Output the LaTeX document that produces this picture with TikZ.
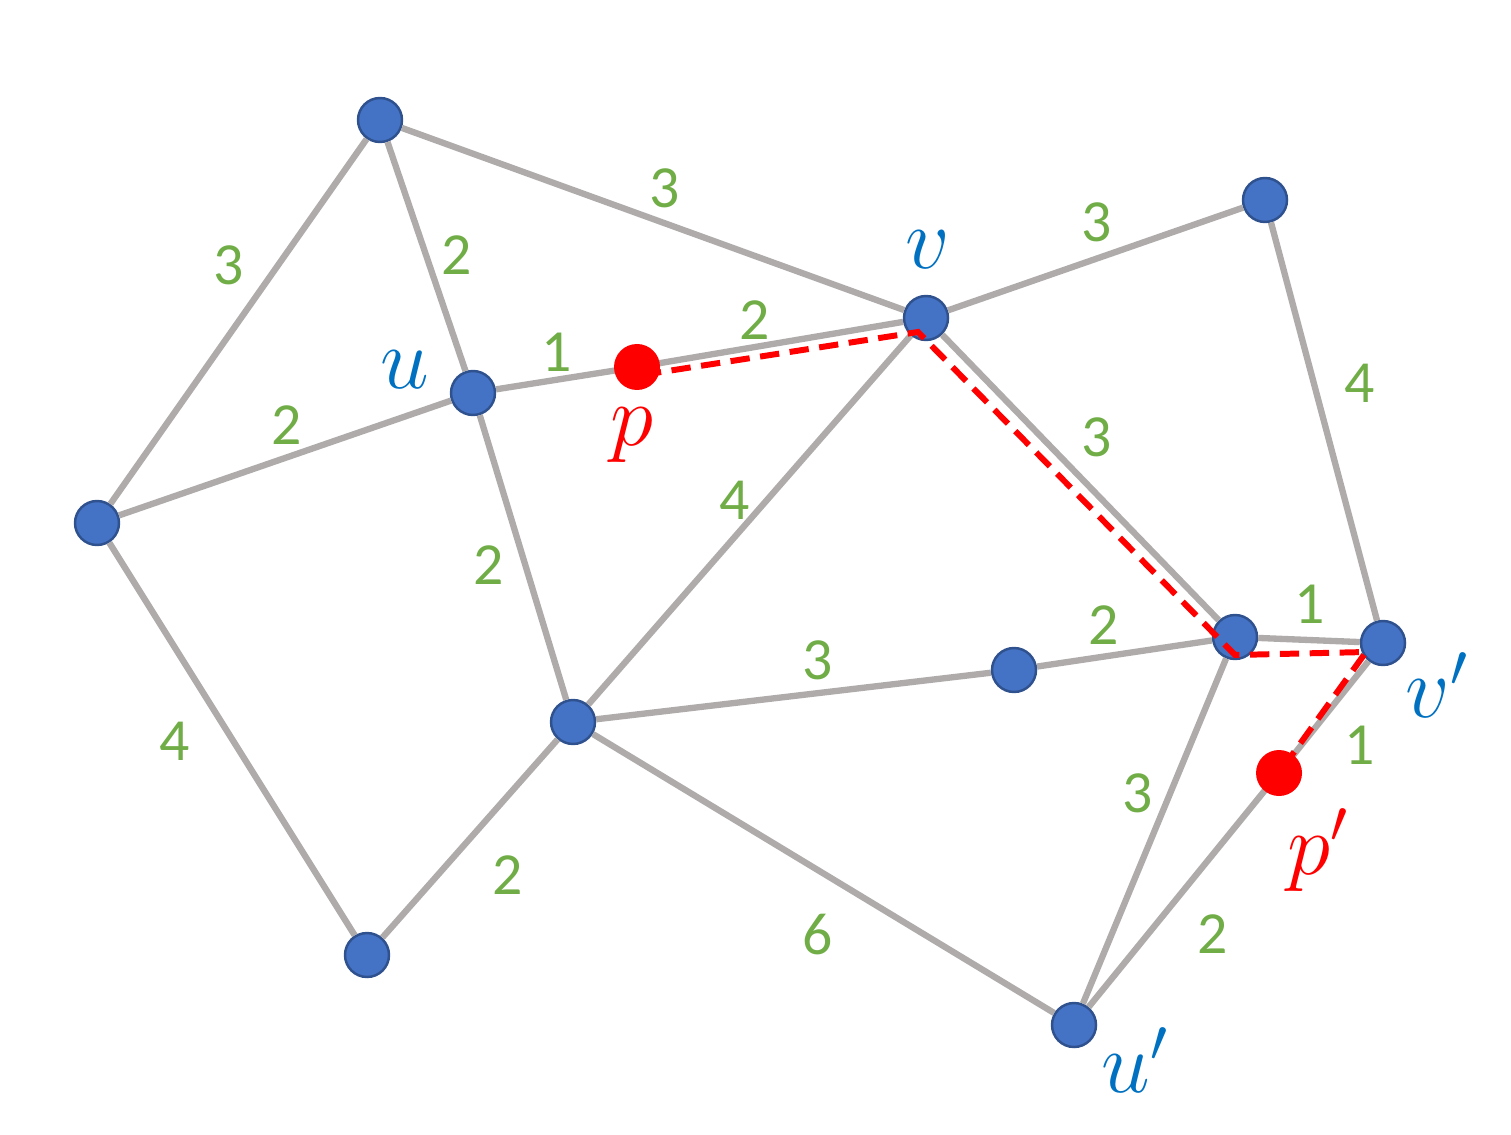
\documentclass[tikz,border=0pt]{standalone}
\usepackage{fontspec}
\setmainfont{Carlito}
\definecolor{edgegray}{HTML}{AFABAB}
\definecolor{vertblue}{HTML}{4472C4}
\definecolor{vertrim}{HTML}{2F528F}
\definecolor{wgreen}{HTML}{70AD47}
\definecolor{lblue}{HTML}{0070C0}
\definecolor{pred}{HTML}{FF0000}
\tikzset{
  vertex/.style={circle, fill=vertblue, draw=vertrim, line width=0.7pt, minimum size=0.44cm, inner sep=0pt},
  point/.style={circle, fill=pred, minimum size=0.46cm, inner sep=0pt},
  edge/.style={edgegray, line width=1.8pt},
  route/.style={pred, line width=1.7pt, dash pattern=on 5.5pt off 3pt},
  weight/.style={wgreen, font=\fontsize{17}{20}\selectfont},
  vname/.style={lblue, font=\fontsize{23}{26}\selectfont},
  pname/.style={pred, font=\fontsize{23}{26}\selectfont}
}
\begin{document}
\begin{tikzpicture}
  \useasboundingbox (0,0) rectangle (15.11,11.34);

  % vertices of the graph
  \node[vertex] (a)  at (3.80,10.14) {};
  \node[vertex] (l)  at (0.97,6.11) {};
  \node[vertex] (bl) at (3.67,1.79) {};
  \node[vertex] (u)  at (4.73,7.41) {};
  \node[vertex] (v)  at (9.26,8.16) {};
  \node[vertex] (tr) at (12.65,9.34) {};
  \node[vertex] (c)  at (5.73,4.12) {};
  \node[vertex] (m)  at (10.14,4.64) {};
  \node[vertex] (r)  at (12.35,4.97) {};
  \node[vertex] (v2) at (13.83,4.91) {};
  \node[vertex] (u2) at (10.74,1.09) {};
  \coordinate (p)  at (6.37,7.67);
  \coordinate (p2) at (12.79,3.61);

  % edges
  \draw[edge] (a) -- (l);
  \draw[edge] (a) -- (u);
  \draw[edge] (a) -- (v);
  \draw[edge] (l) -- (u);
  \draw[edge] (l) -- (bl);
  \draw[edge] (u) -- (p) -- (v);
  \draw[edge] (u) -- (c);
  \draw[edge] (v) -- (c);
  \draw[edge] (v) -- (tr);
  \draw[edge] (v) -- (r);
  \draw[edge] (tr) -- (v2);
  \draw[edge] (c) -- (m);
  \draw[edge] (m) -- (r);
  \draw[edge] (r) -- (v2);
  \draw[edge] (c) -- (bl);
  \draw[edge] (c) -- (u2);
  \draw[edge] (r) -- (u2);
  \draw[edge] (u2) -- (p2) -- (v2);

  % shortest path from p to p'
  \coordinate (d1) at ([shift={(0.05,-0.08)}]p);
  \coordinate (d2) at ([shift={(-0.08,-0.14)}]v);
  \coordinate (d3) at ([shift={(0,-0.18)}]r);
  \coordinate (d4) at ([shift={(-0.17,-0.09)}]v2);
  \draw[route] (d1) -- (d2) -- (d3) -- (d4) -- (p2);

  % the two points
  \node[point] (pp)  at (p) {};
  \node[point] (pp2) at (p2) {};

  % names
  \node[vname] (lu)  at (4.05,7.64) {$u$};
  \node[vname] (lv)  at (9.28,8.84) {$v$};
  \node[pname] (lp)  at (6.32,6.99) {$p$};
  \node[vname] (lv2) at (14.37,4.49) {$v'$};
  \node[pname] (lp2) at (13.18,2.84) {$p'$};
  \node[vname] (lu2) at (11.35,0.74) {$u'$};

  % edge weights
  \node[weight] (w1)  at (2.29,8.69) {3};
  \node[weight] (w2)  at (4.57,8.79) {2};
  \node[weight] (w3)  at (6.65,9.46) {3};
  \node[weight] (w4)  at (10.97,9.12) {3};
  \node[weight] (w5)  at (7.55,8.14) {2};
  \node[weight] (w6)  at (5.57,7.82) {1};
  \node[weight] (w7)  at (2.87,7.09) {2};
  \node[weight] (w8)  at (13.60,7.51) {4};
  \node[weight] (w9)  at (10.97,6.97) {3};
  \node[weight] (w10) at (7.35,6.34) {4};
  \node[weight] (w11) at (4.89,5.69) {2};
  \node[weight] (w12) at (13.10,5.30) {1};
  \node[weight] (w13) at (11.04,5.09) {2};
  \node[weight] (w14) at (8.18,4.74) {3};
  \node[weight] (w15) at (13.60,3.89) {1};
  \node[weight] (w16) at (1.75,3.93) {4};
  \node[weight] (w17) at (11.38,3.41) {3};
  \node[weight] (w18) at (5.08,2.59) {2};
  \node[weight] (w19) at (8.18,1.99) {6};
  \node[weight] (w20) at (12.13,2.00) {2};
\end{tikzpicture}
\end{document}
